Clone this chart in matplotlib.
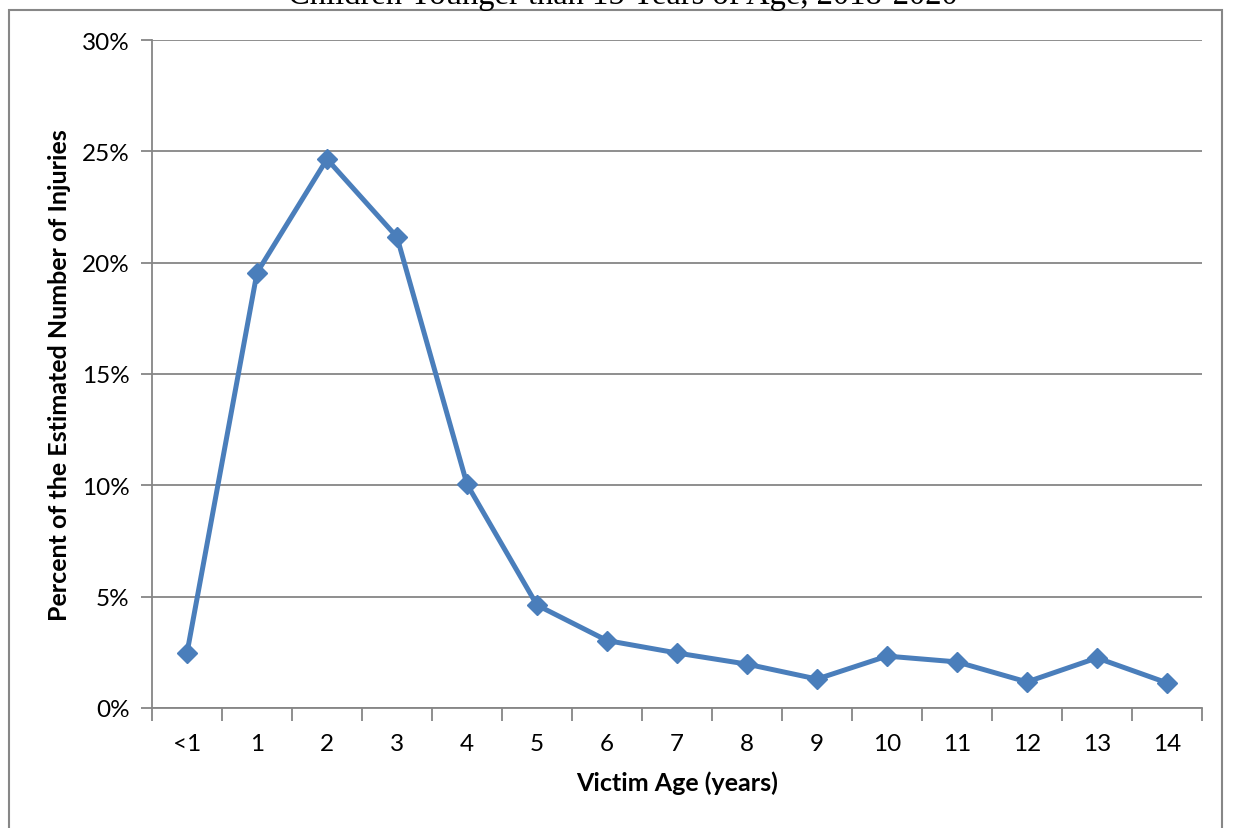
import matplotlib
matplotlib.use('Agg')
import matplotlib.pyplot as plt
from matplotlib.patches import Rectangle
from matplotlib.ticker import FuncFormatter, FixedLocator

ages = ['<1', '1', '2', '3', '4', '5', '6', '7', '8', '9', '10', '11', '12', '13', '14']
pct = [2.47, 19.55, 24.65, 21.15, 10.05, 4.62, 3.03, 2.47, 1.97, 1.30, 2.33, 2.07, 1.17, 2.25, 1.13]

title = 'Children Younger than 15 Years of Age, 2018-2020'
xlabel = 'Victim Age (years)'
ylabel = 'Percent of the Estimated Number of Injuries'

W, H = 1233, 829
fig = plt.figure(figsize=(W / 100, H / 100), dpi=100)
fig.patch.set_facecolor('white')

# chart border (bottom runs off the image)
fig.patches.append(Rectangle((9 / W, -0.05), (1222 - 9) / W, 1 - 11 / H + 0.05,
                             transform=fig.transFigure, fill=False,
                             edgecolor='#878787', linewidth=1.5))

# title sits mostly above the image top, as in the source
fig.text(623 / W, 1 - 4 / H, title, ha='center', va='baseline',
         family='Liberation Serif', fontsize=23.5, color='black')

ax = fig.add_axes([152 / W, 1 - 709 / H, (1202 - 152) / W, (709 - 41) / H])
x = list(range(len(ages)))
ax.plot(x, pct, color='#4a7ebb', linewidth=3.6, marker='D', markersize=10.5,
        markeredgecolor='#4a7ebb', zorder=3, clip_on=False)

ax.set_xlim(-0.5, len(ages) - 0.5)
ax.set_ylim(0, 30)
ax.set_yticks([0, 5, 10, 15, 20, 25, 30])
ax.yaxis.set_major_formatter(FuncFormatter(lambda v, p: f'{int(v)}%'))
ax.yaxis.grid(True, color='#868686', linewidth=1.3)
ax.set_axisbelow(True)

ax.xaxis.set_major_locator(FixedLocator([i - 0.5 for i in range(len(ages) + 1)]))
ax.xaxis.set_minor_locator(FixedLocator(x))
ax.set_xticklabels([])
ax.set_xticklabels(ages, minor=True)
ax.tick_params(axis='x', which='major', direction='out', length=9, color='#868686', width=1.3)
ax.tick_params(axis='x', which='minor', length=0, pad=18, labelsize=17.5)
ax.tick_params(axis='y', direction='out', length=8, color='#868686', width=1.3,
               labelsize=17.5, pad=8)

for side in ['top', 'right']:
    ax.spines[side].set_visible(False)
for side in ['left', 'bottom']:
    ax.spines[side].set_color('#868686')
    ax.spines[side].set_linewidth(1.3)

for lab in ax.get_xticklabels(minor=True) + ax.get_yticklabels():
    lab.set_family('Lato')

ax.set_xlabel(xlabel, family='Lato', fontweight='bold', fontsize=18)
ax.set_ylabel(ylabel, family='Lato', fontweight='bold', fontsize=18)
ax.xaxis.set_label_coords(0.5, -(783 - 709) / (709 - 41), transform=ax.transAxes)
ax.yaxis.set_label_coords(-(152 - 60) / (1202 - 152), 0.5, transform=ax.transAxes)
ax.xaxis.label.set_va('center')
ax.yaxis.label.set_va('center')

fig.savefig('out.png', dpi=100)
